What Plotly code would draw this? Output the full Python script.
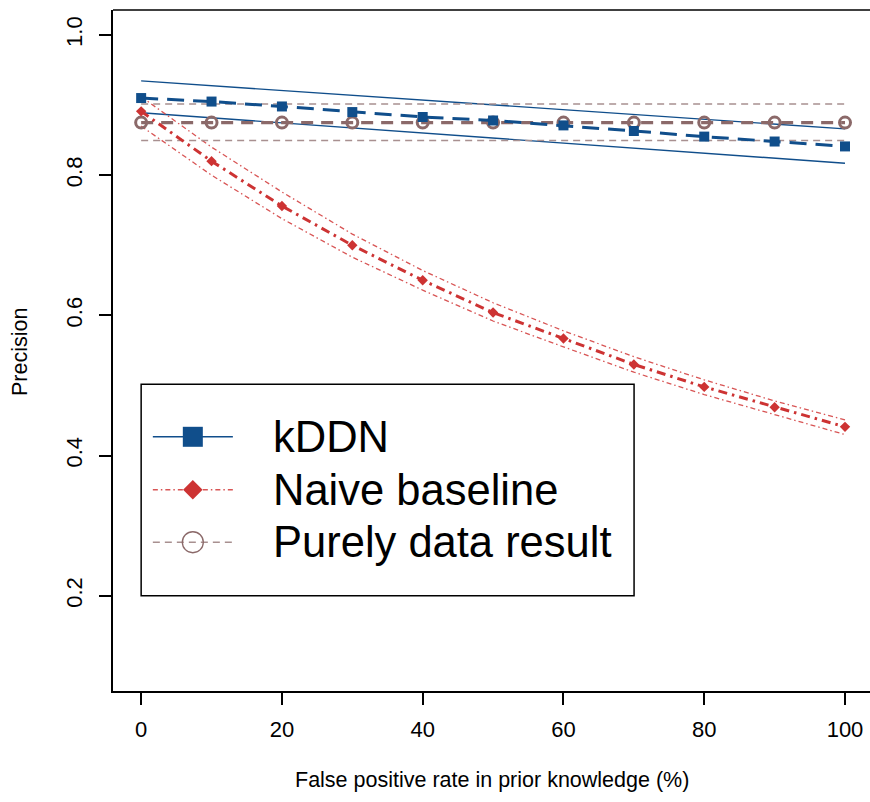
import plotly.graph_objects as go

# ---- data ----
fpr = [0, 10, 20, 30, 40, 50, 60, 70, 80, 90, 100]
kddn = [0.910, 0.905, 0.898, 0.890, 0.883, 0.878, 0.871, 0.863, 0.855, 0.848, 0.841]
kddn_band_x = [0, 100]
kddn_upper = [0.9345, 0.866]
kddn_lower = [0.889, 0.817]

naive = [0.891, 0.820, 0.756, 0.700, 0.650, 0.604, 0.567, 0.530, 0.498, 0.469, 0.441]
naive_upper = [0.912, 0.840, 0.776, 0.716, 0.664, 0.618, 0.578, 0.541, 0.508, 0.478, 0.451]
naive_lower = [0.870, 0.800, 0.738, 0.683, 0.636, 0.592, 0.555, 0.519, 0.487, 0.458, 0.430]

pure = [0.875] * 11
pure_band_x = [0, 100]
pure_upper = [0.9015, 0.9015]
pure_lower = [0.8495, 0.8495]

legend_labels = ["kDDN", "Naive baseline", "Purely data result"]
xticks = [0, 20, 40, 60, 80, 100]
yticks = [0.2, 0.4, 0.6, 0.8, 1.0]

BLUE = "#104E8B"
RED = "#CD3333"
BROWN = "#8B6969"
BROWN_L = "#A89090"
RED_L = "#D85555"
FONT = "Liberation Sans, Arial, sans-serif"

fig = go.Figure()

# bands
fig.add_trace(go.Scatter(x=kddn_band_x, y=kddn_upper, mode="lines",
                         line=dict(color=BLUE, width=1.4), showlegend=False))
fig.add_trace(go.Scatter(x=kddn_band_x, y=kddn_lower, mode="lines",
                         line=dict(color=BLUE, width=1.4), showlegend=False))
fig.add_trace(go.Scatter(x=fpr, y=naive_upper, mode="lines",
                         line=dict(color=RED_L, width=1.3, dash="5px,3px,1.5px,3px"), showlegend=False))
fig.add_trace(go.Scatter(x=fpr, y=naive_lower, mode="lines",
                         line=dict(color=RED_L, width=1.3, dash="5px,3px,1.5px,3px"), showlegend=False))
fig.add_trace(go.Scatter(x=pure_band_x, y=pure_upper, mode="lines",
                         line=dict(color=BROWN_L, width=1.5, dash="7px,5px"), showlegend=False))
fig.add_trace(go.Scatter(x=pure_band_x, y=pure_lower, mode="lines",
                         line=dict(color=BROWN_L, width=1.5, dash="7px,5px"), showlegend=False))

# main lines
fig.add_trace(go.Scatter(x=fpr, y=pure, mode="lines+markers",
                         line=dict(color=BROWN, width=3.2, dash="12px,8px"),
                         marker=dict(symbol="circle-open", size=11, color=BROWN, line=dict(width=3, color=BROWN)),
                         showlegend=False))
fig.add_trace(go.Scatter(x=fpr, y=naive, mode="lines+markers",
                         line=dict(color=RED, width=3, dash="9px,5px,2.5px,5px"),
                         marker=dict(symbol="diamond", size=8, color=RED),
                         showlegend=False))
fig.add_trace(go.Scatter(x=fpr, y=kddn, mode="lines+markers",
                         line=dict(color=BLUE, width=3, dash="17px,9px"),
                         marker=dict(symbol="square", size=10, color=BLUE),
                         showlegend=False))

# ---- custom legend (R style) ----
leg_x0, leg_x1, leg_y0, leg_y1 = 0.0, 70.03, 0.2, 0.5018
row_y = [0.4268, 0.3513, 0.2764]
sx0, sx1, mx, tx = 1.66, 13.03, 7.34, 18.4

fig.add_shape(type="rect", x0=leg_x0, x1=leg_x1, y0=leg_y0, y1=leg_y1,
              xref="x", yref="y", line=dict(color="black", width=1.5),
              fillcolor="white", layer="below")

styles = [
    dict(line=dict(color=BLUE, width=1.5), marker=dict(symbol="square", size=20, color=BLUE)),
    dict(line=dict(color=RED_L, width=1.3, dash="5px,3px,1.5px,3px"),
         marker=dict(symbol="diamond", size=15, color=RED)),
    dict(line=dict(color=BROWN_L, width=1.5, dash="7px,5px"),
         marker=dict(symbol="circle-open", size=21, color=BROWN, line=dict(width=1.3, color=BROWN))),
]
for lab, ry, st in zip(legend_labels, row_y, styles):
    fig.add_trace(go.Scatter(x=[sx0, sx1], y=[ry, ry], mode="lines", line=st["line"],
                             showlegend=False, hoverinfo="skip"))
    fig.add_trace(go.Scatter(x=[mx], y=[ry], mode="markers", marker=st["marker"],
                             showlegend=False, hoverinfo="skip"))
    fig.add_annotation(x=tx, y=ry, xref="x", yref="y", text=lab, showarrow=False,
                       xanchor="left", yanchor="middle", font=dict(size=43.5, color="black", family=FONT))

# top border (right border falls outside the window)
fig.add_shape(type="line", xref="paper", yref="paper", x0=0, x1=1, y0=1, y1=1,
              line=dict(color="black", width=1.5))

fig.update_layout(
    width=870, height=802,
    margin=dict(l=113, r=0, t=10, b=111),
    paper_bgcolor="white", plot_bgcolor="white",
    font=dict(family=FONT, size=22, color="black"),
    showlegend=False,
    xaxis=dict(range=[-4, 103.55], tickvals=xticks, ticktext=[str(v) for v in xticks],
               showgrid=False, zeroline=False, showline=True, linecolor="black", linewidth=1.5,
               ticks="outside", ticklen=12, tickwidth=1.5, tickcolor="black",
               tickfont=dict(size=22, family=FONT), ticklabelstandoff=6),
    yaxis=dict(range=[0.0642, 1.0356], tickvals=yticks, ticktext=["%.1f" % v for v in yticks],
               showgrid=False, zeroline=False, showline=True, linecolor="black", linewidth=1.5,
               ticks="outside", ticklen=12, tickwidth=1.5, tickcolor="black", tickangle=-90,
               tickfont=dict(size=22, family=FONT), ticklabelstandoff=8),
)

fig.add_annotation(text="False positive rate in prior knowledge (%)", xref="paper", yref="paper",
                   x=0.5, y=(802 - 780 - 111) / 681, xanchor="center", yanchor="middle",
                   showarrow=False, font=dict(size=21.5, family=FONT))
fig.add_annotation(text="Precision", xref="paper", yref="paper",
                   x=(20 - 113) / 757, y=0.5 - (352 - 350.5) / 681,
                   xanchor="center", yanchor="middle", textangle=-90,
                   showarrow=False, font=dict(size=21.5, family=FONT))

fig.write_html("out.html")
